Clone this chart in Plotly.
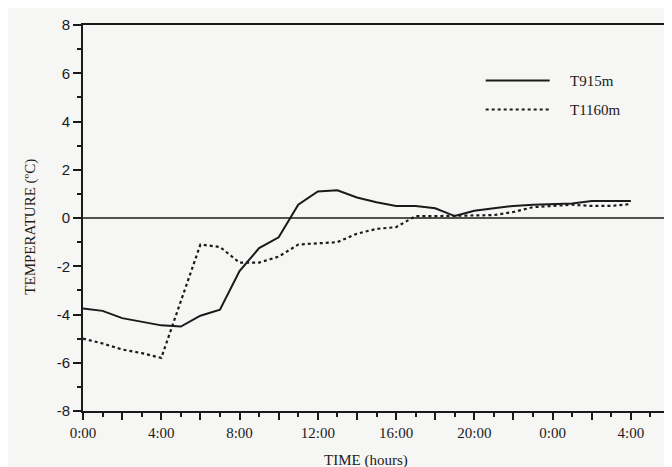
import plotly.graph_objects as go

# hours since start (0:00 of day 1 ... 4:00 of day 2)
hours_915 = list(range(0, 29))
t915 = [-3.75, -3.85, -4.15, -4.3, -4.45, -4.5, -4.05, -3.8, -2.2, -1.25,
        -0.8, 0.55, 1.1, 1.15, 0.85, 0.65, 0.5, 0.5, 0.4, 0.08,
        0.3, 0.4, 0.5, 0.55, 0.58, 0.6, 0.7, 0.7, 0.7]

hours_1160 = [0, 1, 2, 3, 4, 6, 7, 8, 9, 10, 11, 12, 13, 14, 15, 16, 17, 18,
              19, 20, 21, 22, 23, 24, 25, 26, 27, 28]
t1160 = [-5.0, -5.2, -5.45, -5.6, -5.8, -1.1, -1.2, -1.85, -1.85, -1.6,
         -1.1, -1.05, -1.0, -0.65, -0.45, -0.38, 0.08, 0.08, 0.1, 0.1,
         0.12, 0.25, 0.45, 0.5, 0.55, 0.5, 0.5, 0.58]

x_tickvals = [0, 2, 4, 6, 8, 10, 12, 14, 16, 18, 20, 22, 24, 26, 28]
x_ticktext = ["0:00", "", "4:00", "", "8:00", "", "12:00", "", "16:00", "",
              "20:00", "", "0:00", "", "4:00"]
y_tickvals = [-8, -6, -4, -2, 0, 2, 4, 6, 8]
y_ticktext = ["-8", "-6", "-4", "-2", "0", "2", "4", "6", "8"]

series_names = ["T915m", "T1160m"]

serif = "Liberation Serif, Times New Roman, serif"
sans = "Liberation Sans, Arial, sans-serif"

fig = go.Figure()
fig.add_trace(go.Scatter(x=hours_915, y=t915, mode="lines", name=series_names[0],
                         line=dict(color="#1a1a1a", width=2)))
fig.add_trace(go.Scatter(x=hours_1160, y=t1160, mode="lines", name=series_names[1],
                         line=dict(color="#1a1a1a", width=2.2, dash="dot")))

# zero reference line
fig.add_hline(y=0, line=dict(color="#1a1a1a", width=1.6))

# manual legend (lines + labels)
leg_rows = [(0.856, "solid", series_names[0]), (0.781, "dot", series_names[1])]
for yy, dash, name in leg_rows:
    fig.add_shape(type="line", xref="paper", yref="paper", x0=0.686, x1=0.795,
                  y0=yy, y1=yy, line=dict(color="#1a1a1a", width=2, dash=dash))
    fig.add_annotation(xref="paper", yref="paper", x=0.826, y=yy, text=name,
                       showarrow=False, xanchor="left", yanchor="middle",
                       font=dict(family=serif, size=15, color="#1a1a1a"))

# axis titles
fig.add_annotation(xref="paper", yref="paper", x=0.482, y=-0.127, text="TIME (hours)",
                   showarrow=False, xanchor="center", yanchor="middle",
                   font=dict(family=serif, size=15, color="#1a1a1a"))
fig.add_annotation(xref="paper", yref="paper", x=-0.09, y=0.478, text="TEMPERATURE (ºC)",
                   showarrow=False, textangle=-90, xanchor="center", yanchor="middle",
                   font=dict(family=serif, size=15, color="#1a1a1a"))

fig.update_layout(
    width=672, height=467,
    margin=dict(l=75, r=8, t=14, b=64),
    paper_bgcolor="#f6f6f4", plot_bgcolor="#f6f6f4",
    showlegend=False,
)
fig.update_xaxes(
    range=[0, 30], tickvals=x_tickvals, ticktext=x_ticktext,
    ticks="outside", ticklen=7, tickwidth=2, tickcolor="#1a1a1a",
    minor=dict(dtick=1, tick0=0, ticks="outside", ticklen=4, tickwidth=1.5, tickcolor="#1a1a1a"),
    showline=True, linewidth=2, linecolor="#1a1a1a", mirror=True,
    showgrid=False, zeroline=False,
    tickfont=dict(family=serif, size=15, color="#1a1a1a"),
)
fig.update_yaxes(
    range=[-8, 8], tickvals=y_tickvals, ticktext=y_ticktext,
    ticks="outside", ticklen=8, tickwidth=2, tickcolor="#1a1a1a",
    minor=dict(dtick=1, tick0=0, ticks="outside", ticklen=4, tickwidth=1.5, tickcolor="#1a1a1a"),
    showline=True, linewidth=2, linecolor="#1a1a1a", mirror=True,
    showgrid=False, zeroline=False,
    tickfont=dict(family=sans, size=15, color="#1a1a1a"),
)

fig.write_html("out.html")
